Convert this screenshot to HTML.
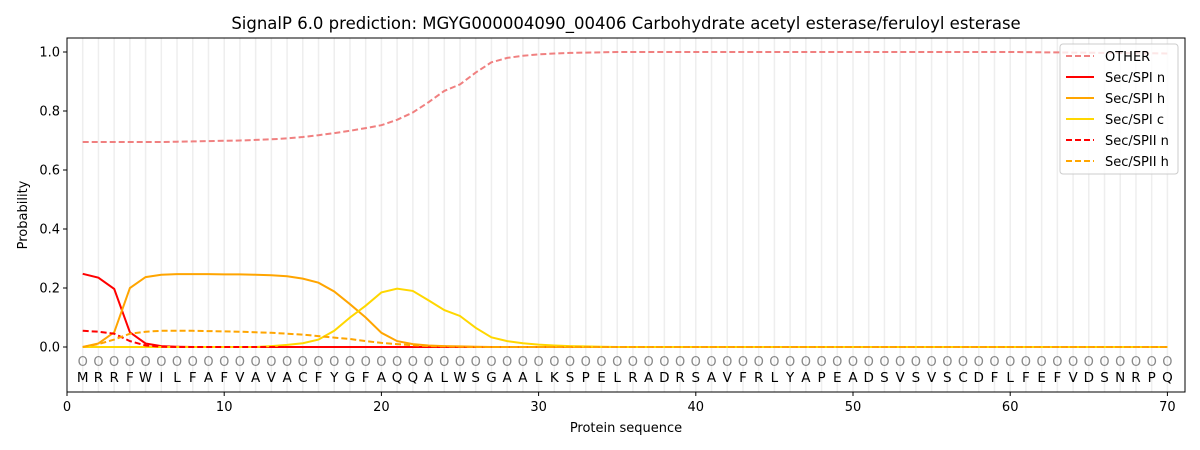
<!DOCTYPE html>
<html><head><meta charset="utf-8"><style>body{margin:0;background:#fff}svg{display:block;font-family:"DejaVu Sans","Liberation Sans",sans-serif}</style></head>
<body>
<svg id="s" width="1200" height="450" xmlns="http://www.w3.org/2000/svg">
<rect width="1200" height="450" fill="#fff"/>
<text x="626" y="29" font-size="16.5" text-anchor="middle">SignalP 6.0 prediction: MGYG000004090_00406 Carbohydrate acetyl esterase/feruloyl esterase</text>
<g id="grid"></g>
<g id="lines" fill="none" stroke-width="2"></g>
<g id="txt"></g>
<rect x="67" y="38" width="1118" height="354" fill="none" stroke="#000" stroke-width="1"/>
<g id="ax" font-size="13"></g>
<text x="626" y="432" font-size="13" text-anchor="middle">Protein sequence</text>
<text transform="translate(27,215) rotate(-90)" font-size="13" text-anchor="middle">Probability</text>
<g>
<rect x="1060" y="44" width="118" height="130" rx="3" fill="#fff" fill-opacity="0.8" stroke="#ccc"/>
<g stroke-width="2" fill="none">
<line x1="1066" y1="56" x2="1094" y2="56" stroke="#f08080" stroke-dasharray="6,3"/>
<line x1="1066" y1="77" x2="1094" y2="77" stroke="#ff0000"/>
<line x1="1066" y1="98" x2="1094" y2="98" stroke="#ffa500"/>
<line x1="1066" y1="119" x2="1094" y2="119" stroke="#ffd700"/>
<line x1="1066" y1="140" x2="1094" y2="140" stroke="#ff0000" stroke-dasharray="6,3"/>
<line x1="1066" y1="161" x2="1094" y2="161" stroke="#ffa500" stroke-dasharray="6,3"/>
</g>
<g font-size="13">
<text x="1105" y="61">OTHER</text><text x="1105" y="82">Sec/SPI n</text><text x="1105" y="103">Sec/SPI h</text><text x="1105" y="124">Sec/SPI c</text><text x="1105" y="145">Sec/SPII n</text><text x="1105" y="166">Sec/SPII h</text>
</g></g>
</svg>
<script>
const X=i=>67+i*15.72, Y=p=>347-p*295, ns="http://www.w3.org/2000/svg";
function el(p,t,a,tx){const e=document.createElementNS(ns,t);for(const k in a)e.setAttribute(k,a[k]);if(tx!=null)e.textContent=tx;document.getElementById(p).appendChild(e);}
const seq="MRRFWILFAFVAVACFYGFAQQALWSGAALKSPELRADRSAVFRLYAPEADSVSVSCDFLFEFVDSNRPQ";
for(let i=1;i<=70;i++){el("grid","line",{x1:X(i),x2:X(i),y1:38,y2:392,stroke:"#eee","stroke-width":1.5});
el("txt","text",{x:X(i),y:366,"font-size":13,"text-anchor":"middle",fill:"#888"},"O");
el("txt","text",{x:X(i),y:382,"font-size":13.5,"text-anchor":"middle"},seq[i-1]);}
function pad(a){while(a.length<70)a.push(a[a.length-1]);return a;}
let oth=[.695,.695,.695,.695,.695,.695,.696,.697,.698,.699,.700,.702,.704,.707,.712,.718,.725,.733,.742,.752,.77,.795,.83,.868,.89,.93,.965,.98,.987,.992,.995,.997,.998,.999];
pad(oth);for(let i=34;i<70;i++)oth[i]=i<60?1.0:1.0-(i-59)*0.0005;
const S=[
[oth,"#f08080","6,3"],
[pad([.248,.235,.197,.05,.012,.003,.001,0]),"#ff0000",""],
[pad([0,.012,.05,.2,.237,.245,.247,.247,.247,.246,.246,.245,.243,.24,.232,.218,.188,.145,.1,.048,.02,.01,.005,.003,.002,.001,0]),"#ffa500",""],
[pad([0,0,0,0,0,0,0,0,0,0,0,0,.003,.007,.013,.025,.055,.1,.14,.185,.198,.19,.158,.125,.105,.065,.033,.02,.013,.008,.005,.003,.002,.001,0]),"#ffd700",""],
[pad([.055,.052,.045,.02,.005,.001,0]),"#ff0000","6,3"],
[pad([0,.01,.025,.045,.052,.055,.055,.055,.054,.053,.052,.05,.048,.045,.042,.037,.032,.027,.02,.014,.01,.006,.003,.002,.001,0]),"#ffa500","6,3"]];
for(const [d,c,da] of S){el("lines","polyline",{points:d.map((v,i)=>X(i+1).toFixed(1)+","+Y(v).toFixed(1)).join(" "),stroke:c,"stroke-dasharray":da});}
for(let v=0;v<=70;v+=10){el("ax","line",{x1:X(v),x2:X(v),y1:392,y2:396,stroke:"#000"});el("ax","text",{x:X(v),y:411,"text-anchor":"middle"},v);}
for(let k=0;k<=5;k++){const p=k*0.2;el("ax","line",{x1:63,x2:67,y1:Y(p),y2:Y(p),stroke:"#000"});el("ax","text",{x:60,y:Y(p)+4.5,"text-anchor":"end"},p.toFixed(1));}
</script>
</body></html>
